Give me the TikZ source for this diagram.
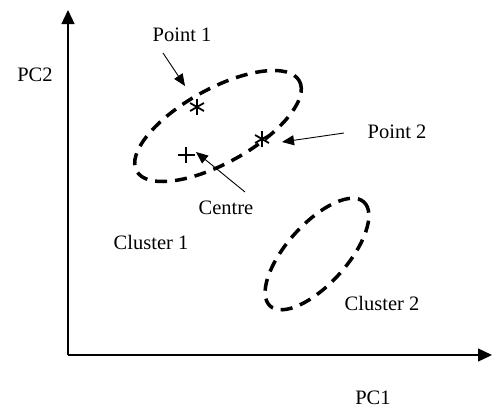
\documentclass[tikz,border=0pt]{standalone}
\usepackage{fontspec}
\setmainfont{Liberation Serif}
\usetikzlibrary{arrows.meta}
\begin{document}
\begin{tikzpicture}[x=1pt,y=-1pt,
  lbl/.style={font=\fontsize{20.5}{24}\selectfont, inner sep=0pt},
  axis/.style={line width=1.3pt,-{Triangle[length=14pt,width=13pt]}},
  pointer/.style={line width=0.9pt,-{Triangle[length=12pt,width=10pt]}},
  cluster/.style={line width=3.5pt, dash pattern=on 12pt off 8pt},
  astk/.style={line width=1.8pt},
  plusmk/.style={line width=1.2pt}]
\useasboundingbox (0,0) rectangle (494,408);
% axes
\coordinate (O) at (68,355);
\coordinate (Ytip) at (68,10);
\coordinate (Xtip) at (492,355);
\draw[axis] (O) -- (Ytip);
\draw[axis] (O) -- (Xtip);
% clusters
\coordinate (E1) at (218,126);
\coordinate (E2) at (317,254);
\draw[cluster, rotate around={29:(E1)}] (E1) ellipse [x radius=93, y radius=37];
\draw[cluster, rotate around={48:(E2)}] (E2) ellipse [x radius=70, y radius=30];
% labels
\node[lbl] (pc2) at (35,75) {PC2};
\node[lbl] (pc1) at (373,398) {PC1};
\node[lbl] (p1) at (182,35) {Point 1};
\node[lbl] (p2) at (397,132) {Point 2};
\node[lbl] (centre) at (226,208) {Centre};
\node[lbl] (c1) at (151,242) {Cluster 1};
\node[lbl] (c2) at (382,303) {Cluster 2};
% marks
\coordinate (s1) at (197,107);
\coordinate (s2) at (262,139);
\coordinate (ctr) at (186,155);
\foreach \a in {90,30,150} {
  \draw[astk] (s1) ++(\a:8) -- ++(\a+180:16);
  \draw[astk] (s2) ++(\a:8) -- ++(\a+180:16);
}
\draw[plusmk] (ctr) ++(-8.5,0) -- ++(17,0);
\draw[plusmk] (ctr) ++(0,-8) -- ++(0,16);
% pointers
\coordinate (a1s) at (163,53);
\coordinate (a1t) at (185,86);
\coordinate (a2s) at (344,133);
\coordinate (a2t) at (282,142);
\coordinate (a3s) at (245,192);
\coordinate (a3t) at (196,152);
\draw[pointer] (a1s) -- (a1t);
\draw[pointer] (a2s) -- (a2t);
\draw[pointer] (a3s) -- (a3t);
\end{tikzpicture}
\end{document}
